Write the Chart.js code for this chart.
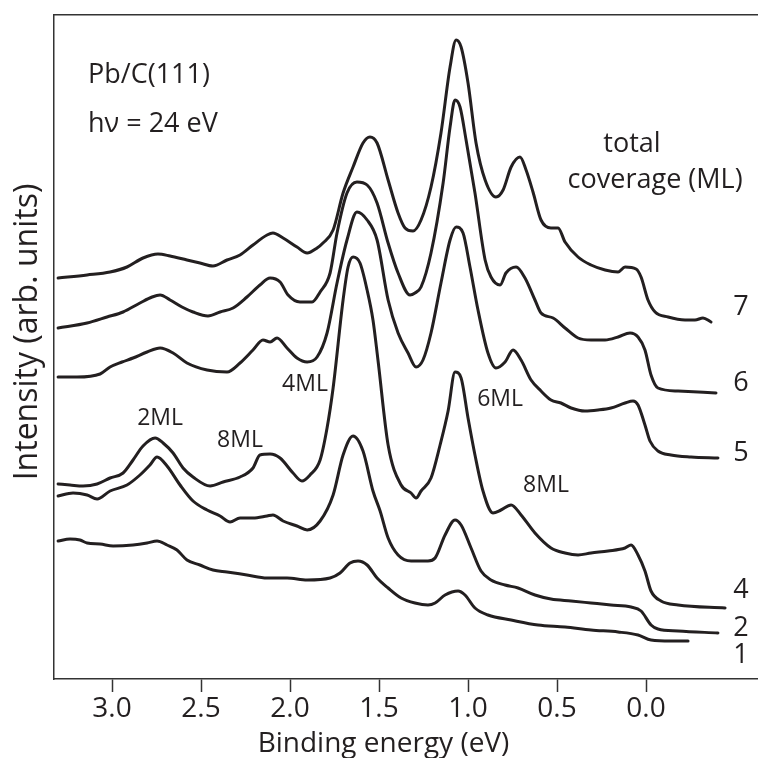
<!DOCTYPE html>
<html>
<head>
<meta charset="utf-8">
<script src="https://cdn.jsdelivr.net/npm/chart.js@4/dist/chart.umd.min.js"></script>
<style>
  html, body { margin: 0; padding: 0; background: #ffffff; }
  #wrap { width: 758px; height: 758px; }
</style>
</head>
<body>
<div id="wrap"><canvas id="c" width="758" height="758"></canvas></div>
<script>
// ---------- data (binding energy in eV, intensity in arb. units) ----------
const tickValues = [3.0, 2.5, 2.0, 1.5, 1.0, 0.5, 0.0];

const energy7 = [3.303,3.140,3.011,2.916,2.826,2.742,2.674,2.579,2.506,2.433,2.354,2.281,2.208,2.129,2.096,2.039,1.961,1.904,1.848,1.815,1.758,1.702,1.646,1.590,1.551,1.511,1.449,1.393,1.354,1.309,1.264,1.208,1.152,1.101,1.067,1.039,1.000,0.955,0.904,0.843,0.803,0.758,0.708,0.674,0.635,0.590,0.534,0.494,0.455,0.382,0.309,0.230,0.157,0.118,0.056,0.028,-0.011,-0.051,-0.124,-0.219,-0.275,-0.320,-0.365];
const intensity7 = [40.1,40.4,40.7,41.2,42.1,42.5,42.3,41.9,41.6,41.3,41.9,42.4,43.4,44.4,44.6,44.1,43.2,42.6,43.1,43.6,44.9,48.6,51.2,53.6,54.2,53.6,49.9,46.6,45.1,44.8,45.9,49.2,54.6,61.2,63.9,63.2,59.6,53.6,49.9,48.2,48.9,51.2,52.2,50.9,48.7,45.9,45.1,45.1,43.7,42.2,41.4,40.9,40.7,41.2,41.0,40.2,37.9,36.7,36.2,35.9,35.9,36.1,35.7];

const energy6 = [3.303,3.140,3.028,2.938,2.843,2.775,2.730,2.674,2.607,2.545,2.461,2.393,2.320,2.242,2.169,2.112,2.056,2.011,1.944,1.876,1.831,1.775,1.736,1.680,1.624,1.567,1.511,1.449,1.393,1.326,1.298,1.264,1.208,1.140,1.101,1.073,1.045,1.011,0.961,0.904,0.871,0.820,0.787,0.730,0.680,0.624,0.590,0.522,0.455,0.382,0.309,0.230,0.157,0.090,0.045,0.006,-0.028,-0.067,-0.180,-0.393];
const intensity6 = [35.1,35.6,36.2,36.7,37.6,38.2,38.4,37.9,37.2,36.7,36.3,36.7,37.1,38.2,39.4,40.1,39.7,38.4,37.7,37.7,38.7,40.6,44.6,48.6,49.7,49.4,47.6,43.6,40.6,38.4,38.6,39.2,42.6,49.6,55.2,57.9,57.2,53.9,48.6,41.9,40.2,39.4,40.6,41.2,40.1,37.9,36.6,36.1,35.1,34.1,33.9,33.9,34.2,34.6,34.2,32.9,30.4,29.1,28.8,28.6];

const energy5 = [3.303,3.197,3.067,3.011,2.944,2.882,2.803,2.730,2.657,2.579,2.466,2.354,2.281,2.208,2.152,2.112,2.073,2.017,1.961,1.904,1.848,1.792,1.736,1.680,1.624,1.567,1.511,1.449,1.393,1.337,1.292,1.253,1.208,1.152,1.101,1.067,1.028,0.989,0.944,0.888,0.843,0.792,0.747,0.702,0.646,0.590,0.534,0.478,0.421,0.343,0.270,0.197,0.118,0.073,0.045,0.006,-0.022,-0.067,-0.140,-0.253,-0.404];
const intensity5 = [30.2,30.2,30.5,31.2,31.7,32.1,32.7,33.1,32.6,31.6,30.9,30.7,31.6,32.9,33.9,33.7,34.1,33.1,32.1,31.7,32.2,34.6,39.6,43.9,46.7,45.9,43.9,37.9,34.6,32.6,31.2,31.9,34.6,39.6,43.9,45.2,44.6,41.2,36.9,32.6,31.1,31.7,32.9,31.9,29.9,28.8,27.9,27.6,27.1,26.8,26.9,27.1,27.6,27.8,27.4,25.4,23.8,22.8,22.4,22.2,22.1];

const energy4 = [3.303,3.236,3.163,3.084,3.011,2.938,2.882,2.826,2.758,2.713,2.657,2.601,2.545,2.449,2.376,2.281,2.208,2.169,2.112,2.056,1.983,1.933,1.888,1.831,1.792,1.758,1.702,1.674,1.646,1.607,1.567,1.534,1.506,1.449,1.376,1.320,1.292,1.264,1.208,1.157,1.112,1.073,1.039,1.000,0.961,0.916,0.860,0.815,0.758,0.702,0.624,0.534,0.455,0.382,0.309,0.213,0.118,0.084,0.045,0.006,-0.028,-0.084,-0.180,-0.444];
const intensity4 = [19.5,19.4,19.3,19.5,20.1,20.6,21.9,23.3,24.1,23.6,22.6,21.1,20.2,19.3,19.7,20.2,21.1,22.4,22.5,22.1,20.6,19.8,20.4,21.9,25.1,29.1,37.9,41.2,42.2,41.6,38.9,35.9,31.9,23.4,19.4,18.6,18.1,18.8,20.1,23.4,26.8,30.7,30.1,26.1,22.4,18.8,16.6,16.9,17.4,16.4,14.6,13.1,12.6,12.4,12.6,12.8,13.1,13.4,12.4,10.8,8.8,7.8,7.4,7.1];

const energy2 = [3.303,3.219,3.140,3.084,3.011,2.916,2.843,2.787,2.747,2.691,2.618,2.545,2.466,2.393,2.337,2.281,2.208,2.129,2.096,2.039,1.961,1.904,1.831,1.758,1.702,1.646,1.590,1.534,1.494,1.449,1.393,1.320,1.225,1.185,1.129,1.073,1.039,0.983,0.927,0.871,0.792,0.719,0.624,0.534,0.421,0.309,0.197,0.084,0.028,-0.028,-0.067,-0.180,-0.404];
const intensity2 = [18.3,18.6,18.4,18.0,18.8,19.4,20.4,21.4,22.2,21.3,19.4,17.8,16.9,16.3,15.7,16.1,16.1,16.3,16.4,15.8,15.3,14.9,15.8,18.4,22.4,24.3,22.8,18.8,16.8,14.1,12.4,11.8,11.8,12.1,14.4,15.9,15.4,13.1,10.8,9.9,9.4,9.1,8.4,8.0,7.8,7.6,7.4,7.2,6.8,5.4,5.0,4.8,4.6];

const energy1 = [3.303,3.236,3.180,3.140,3.067,2.994,2.882,2.803,2.747,2.691,2.635,2.579,2.506,2.433,2.354,2.242,2.129,2.017,1.904,1.775,1.719,1.663,1.618,1.567,1.511,1.449,1.376,1.298,1.225,1.185,1.129,1.056,1.017,0.961,0.888,0.758,0.607,0.455,0.309,0.157,0.045,-0.028,-0.140,-0.236];
const intensity1 = [13.8,14.0,13.9,13.6,13.5,13.3,13.4,13.6,13.8,13.4,12.9,11.9,11.4,10.9,10.7,10.4,10.1,10.1,9.9,10.1,10.6,11.6,11.8,11.4,10.1,9.1,8.1,7.6,7.4,7.6,8.4,8.8,8.4,7.1,6.4,5.9,5.4,5.2,4.9,4.7,4.4,3.9,3.8,3.8];

const coverageLabels = ['7', '6', '5', '4', '2', '1'];
const coverageLabelEnergy = -0.534;
const coverageLabelIntensity = [36.4, 28.8, 21.8, 8.1, 4.3, 1.6];

const peakLabels = ['4ML', '2ML', '8ML', '6ML', '8ML'];
const peakLabelEnergy = [1.916, 2.730, 2.281, 0.820, 0.562];
const peakLabelIntensity = [28.8, 25.4, 23.2, 27.3, 18.7];

const xTitle = 'Binding energy (eV)';
const yTitle = 'Intensity (arb. units)';

// ---------- styling ----------
const INK = '#231f20';
const FONT = "'Open Sans', 'DejaVu Sans', sans-serif";
const X_MIN = -0.629, X_MAX = 3.326;

function series(e, v) { return e.map((x, i) => ({ x: x, y: v[i] })); }

const curves = [
  ['7', energy7, intensity7], ['6', energy6, intensity6], ['5', energy5, intensity5],
  ['4', energy4, intensity4], ['2', energy2, intensity2], ['1', energy1, intensity1]
];

const textItems = [
  { text: 'Pb/C(111)', x: 3.135, y: 59.6, size: 27, align: 'left' },
  { text: 'h\u03bd = 24 eV', x: 3.135, y: 54.7, size: 27, align: 'left' },
  { text: 'total', x: 0.079, y: 52.7, size: 27, align: 'center' },
  { text: 'coverage (ML)', x: -0.051, y: 49.1, size: 27, align: 'center' }
];
coverageLabels.forEach((t, i) => textItems.push({ text: t, x: coverageLabelEnergy, y: coverageLabelIntensity[i], size: 27, align: 'center' }));
peakLabels.forEach((t, i) => textItems.push({ text: t, x: peakLabelEnergy[i], y: peakLabelIntensity[i], size: 23, align: 'center' }));

const textPlugin = {
  id: 'textLabels',
  afterDatasetsDraw(chart) {
    const { ctx, scales, chartArea } = chart;
    ctx.save();
    ctx.fillStyle = INK;
    ctx.textBaseline = 'alphabetic';
    textItems.forEach(it => {
      ctx.font = it.size + 'px ' + FONT;
      ctx.textAlign = it.align;
      ctx.fillText(it.text, scales.x.getPixelForValue(it.x), scales.y.getPixelForValue(it.y));
    });
    // axis titles
    ctx.font = '28px ' + FONT;
    ctx.textAlign = 'center';
    ctx.fillText(xTitle, scales.x.getPixelForValue(1.475), chartArea.bottom + 73);
    ctx.save();
    ctx.translate(chartArea.left - 17, scales.y.getPixelForValue(34.7));
    ctx.rotate(-Math.PI / 2);
    ctx.font = '32px ' + FONT;
    ctx.fillText(yTitle, 0, 0);
    ctx.restore();
    ctx.restore();
  }
};

new Chart(document.getElementById('c'), {
  type: 'line',
  data: {
    datasets: curves.map(c => ({
      label: c[0],
      data: series(c[1], c[2]),
      borderColor: INK,
      borderWidth: 3,
      pointRadius: 0,
      fill: false,
      cubicInterpolationMode: 'monotone',
      borderJoinStyle: 'round',
      borderCapStyle: 'round'
    }))
  },
  options: {
    responsive: false,
    animation: false,
    layout: { padding: { top: 15, left: 0, right: 0, bottom: 0 } },
    plugins: { legend: { display: false }, tooltip: { enabled: false } },
    scales: {
      x: {
        type: 'linear',
        position: 'bottom',
        reverse: true,
        min: X_MIN,
        max: X_MAX,
        afterBuildTicks(s) { s.ticks = tickValues.map(v => ({ value: v })); },
        afterFit(s) { s.height = 79; },
        ticks: {
          color: INK,
          font: { family: FONT, size: 28 },
          padding: 0,
          maxRotation: 0,
          autoSkip: false,
          callback: v => Number(v).toFixed(1)
        },
        grid: { display: true, drawOnChartArea: false, drawTicks: true, tickLength: 13, tickColor: '#333333', tickWidth: 1.5 },
        border: { display: true, color: '#333333', width: 1.5 },
        title: { display: false, text: xTitle }
      },
      xTop: {
        type: 'linear',
        position: 'top',
        reverse: true,
        min: X_MIN,
        max: X_MAX,
        afterFit(s) { s.height = 0; },
        ticks: { display: false },
        grid: { display: false, drawTicks: false },
        border: { display: true, color: '#333333', width: 1.5 }
      },
      y: {
        type: 'linear',
        min: 0,
        max: 66.4,
        afterFit(s) { s.width = 54; },
        ticks: { display: false },
        grid: { display: false, drawTicks: false },
        border: { display: true, color: '#333333', width: 1.5 },
        title: { display: false, text: yTitle }
      }
    }
  },
  plugins: [textPlugin]
});
</script>
</body>
</html>
